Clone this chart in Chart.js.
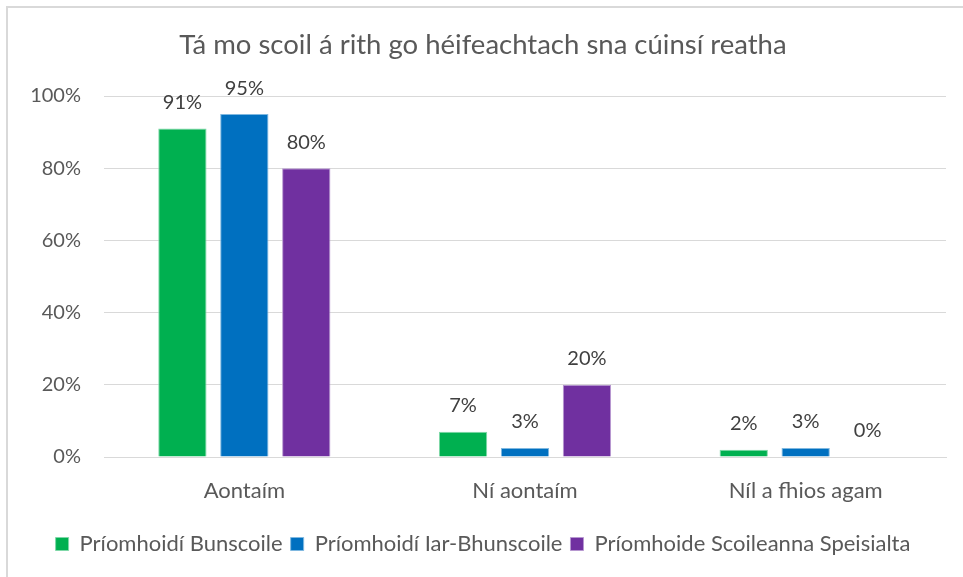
<!DOCTYPE html>
<html>
<head>
<meta charset="utf-8">
<script src="https://cdn.jsdelivr.net/npm/chart.js@4"></script>
<style>
  html, body { margin: 0; padding: 0; background: #fff; overflow: hidden; }
  #wrap { position: relative; width: 963px; height: 577px; }
  #frame { position: absolute; left: 6px; top: 6px; width: 1000px; height: 700px; border: 2px solid #d9d9d9; }
  canvas { position: absolute; left: 0; top: 0; }
</style>
</head>
<body>
<div id="wrap">
  <div id="frame"></div>
  <canvas id="chart" width="963" height="577"></canvas>
</div>
<script>
var categories = ['Aontaím', 'Ní aontaím', 'Níl a fhios agam'];
var bunscoile = [91, 7, 2];
var iarBhunscoile = [95, 2.5, 2.5];
var speisialta = [80, 20, 0];
var yTicks = [0, 20, 40, 60, 80, 100];

var fontFamily = "Lato, 'Open Sans', sans-serif";

var barLabels = {
  id: 'barLabels',
  afterDatasetsDraw: function(chart) {
    var ctx = chart.ctx;
    ctx.save();
    ctx.font = '20px ' + fontFamily;
    ctx.fillStyle = '#404040';
    ctx.textAlign = 'center';
    ctx.textBaseline = 'middle';
    chart.data.datasets.forEach(function(ds, i) {
      chart.getDatasetMeta(i).data.forEach(function(bar, j) {
        ctx.fillText(Math.round(ds.data[j]) + '%', bar.x, bar.y - 26);
      });
    });
    ctx.restore();
  }
};

var ctx = document.getElementById('chart').getContext('2d');
var myChart = new Chart(ctx, {
  type: 'bar',
  data: {
    labels: categories,
    datasets: [{
      label: 'Príomhoidí Bunscoile',
      data: bunscoile,
      backgroundColor: '#00b050',
      borderColor: '#7fd8a8',
      borderWidth: 1
    }, {
      label: 'Príomhoidí Iar-Bhunscoile',
      data: iarBhunscoile,
      backgroundColor: '#0070c0',
      borderColor: '#7fb8e0',
      borderWidth: 1
    }, {
      label: 'Príomhoide Scoileanna Speisialta',
      data: speisialta,
      backgroundColor: '#7030a0',
      borderColor: '#b798d0',
      borderWidth: 1
    }]
  },
  plugins: [barLabels],
  options: {
    responsive: false,
    animation: false,
    categoryPercentage: 0.662,
    barPercentage: 0.78,
    layout: { padding: { top: 0, left: 20, right: 17, bottom: 12 } },
    plugins: {
      title: {
        display: true,
        text: 'Tá mo scoil á rith go héifeachtach sna cúinsí reatha',
        color: '#595959',
        font: { family: fontFamily, size: 27.5, weight: 'normal' },
        padding: { top: 29, bottom: 34 }
      },
      legend: {
        position: 'bottom',
        labels: {
          color: '#595959',
          font: { family: fontFamily, size: 22 },
          boxWidth: 13,
          boxHeight: 13,
          padding: 8
        }
      },
      tooltip: { enabled: false }
    },
    scales: {
      x: {
        grid: { display: false },
        border: { color: '#d9d9d9', width: 1 },
        afterFit: function(scale) { scale.height = 68; },
        ticks: { color: '#595959', font: { family: fontFamily, size: 22 }, padding: 13 }
      },
      y: {
        min: 0,
        max: 100,
        afterBuildTicks: function(scale) {
          scale.ticks = yTicks.map(function(v) { return { value: v }; });
        },
        afterFit: function(scale) { scale.width = 84; },
        grid: { color: '#d9d9d9', lineWidth: 1, drawTicks: false },
        border: { display: false },
        ticks: {
          color: '#595959',
          font: { family: fontFamily, size: 20 },
          padding: 23,
          callback: function(v) { return v + '%'; }
        }
      }
    }
  }
});
</script>
</body>
</html>
